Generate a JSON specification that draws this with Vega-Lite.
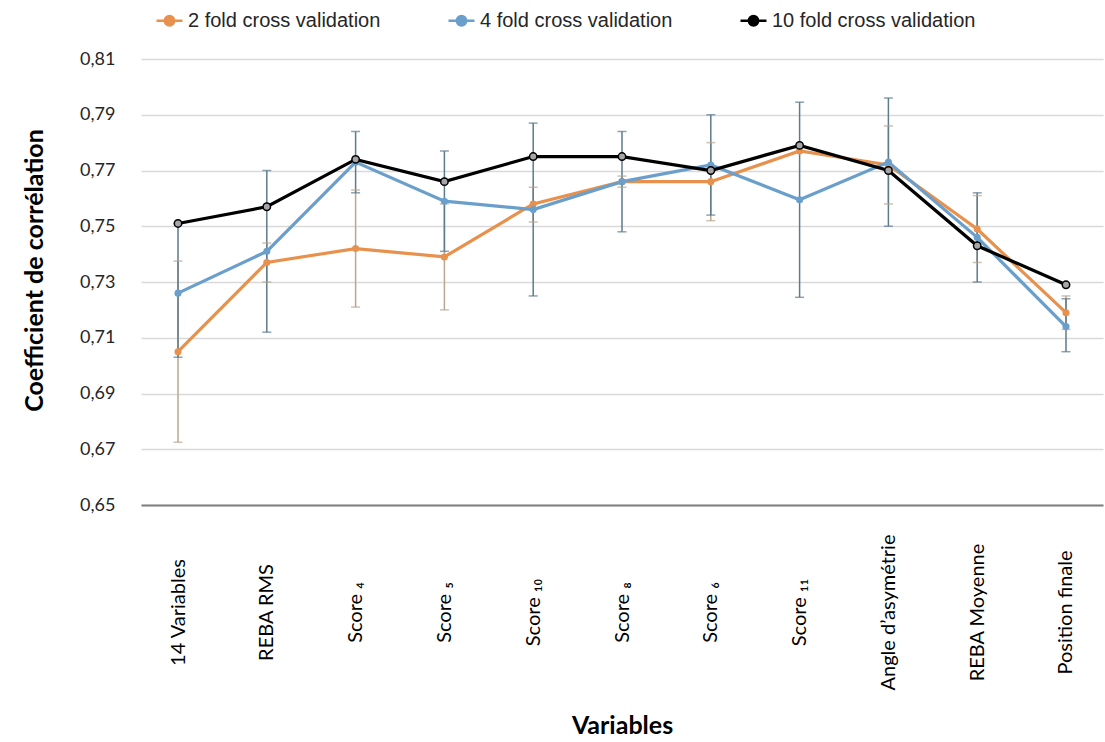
{
  "$schema": "https://vega.github.io/schema/vega-lite/v6.json",
  "width": 962,
  "height": 446,
  "autosize": {"type": "none"},
  "padding": {"left": 141, "top": 59, "right": 2, "bottom": 237},
  "background": "white",
  "config": {
    "view": {"stroke": null},
    "font": "Lato",
    "axisX": {"grid": false}
  },
  "data": {
    "values": [
      {"v": "14 Variables", "s": "2 fold cross validation", "y": 0.705, "lo": 0.6725, "hi": 0.7375},
      {"v": "REBA RMS", "s": "2 fold cross validation", "y": 0.737, "lo": 0.730, "hi": 0.744},
      {"v": "Score ₄", "s": "2 fold cross validation", "y": 0.742, "lo": 0.721, "hi": 0.763},
      {"v": "Score ₅", "s": "2 fold cross validation", "y": 0.739, "lo": 0.720, "hi": 0.758},
      {"v": "Score ₁₀", "s": "2 fold cross validation", "y": 0.758, "lo": 0.7515, "hi": 0.764},
      {"v": "Score ₈", "s": "2 fold cross validation", "y": 0.766, "lo": 0.764, "hi": 0.768},
      {"v": "Score ₆", "s": "2 fold cross validation", "y": 0.766, "lo": 0.752, "hi": 0.780},
      {"v": "Score ₁₁", "s": "2 fold cross validation", "y": 0.777, "lo": null, "hi": null},
      {"v": "Angle d’asymétrie", "s": "2 fold cross validation", "y": 0.772, "lo": 0.758, "hi": 0.786},
      {"v": "REBA Moyenne", "s": "2 fold cross validation", "y": 0.749, "lo": 0.737, "hi": 0.761},
      {"v": "Position finale", "s": "2 fold cross validation", "y": 0.719, "lo": 0.713, "hi": 0.725},
      {"v": "14 Variables", "s": "4 fold cross validation", "y": 0.726, "lo": 0.703, "hi": 0.751},
      {"v": "REBA RMS", "s": "4 fold cross validation", "y": 0.741, "lo": 0.712, "hi": 0.770},
      {"v": "Score ₄", "s": "4 fold cross validation", "y": 0.773, "lo": 0.762, "hi": 0.784},
      {"v": "Score ₅", "s": "4 fold cross validation", "y": 0.759, "lo": 0.741, "hi": 0.777},
      {"v": "Score ₁₀", "s": "4 fold cross validation", "y": 0.756, "lo": 0.725, "hi": 0.787},
      {"v": "Score ₈", "s": "4 fold cross validation", "y": 0.766, "lo": 0.748, "hi": 0.784},
      {"v": "Score ₆", "s": "4 fold cross validation", "y": 0.772, "lo": 0.754, "hi": 0.790},
      {"v": "Score ₁₁", "s": "4 fold cross validation", "y": 0.7595, "lo": 0.7245, "hi": 0.7945},
      {"v": "Angle d’asymétrie", "s": "4 fold cross validation", "y": 0.773, "lo": 0.750, "hi": 0.796},
      {"v": "REBA Moyenne", "s": "4 fold cross validation", "y": 0.746, "lo": 0.730, "hi": 0.762},
      {"v": "Position finale", "s": "4 fold cross validation", "y": 0.714, "lo": 0.705, "hi": 0.724},
      {"v": "14 Variables", "s": "10 fold cross validation", "y": 0.751, "lo": null, "hi": null},
      {"v": "REBA RMS", "s": "10 fold cross validation", "y": 0.757, "lo": null, "hi": null},
      {"v": "Score ₄", "s": "10 fold cross validation", "y": 0.774, "lo": null, "hi": null},
      {"v": "Score ₅", "s": "10 fold cross validation", "y": 0.766, "lo": null, "hi": null},
      {"v": "Score ₁₀", "s": "10 fold cross validation", "y": 0.775, "lo": null, "hi": null},
      {"v": "Score ₈", "s": "10 fold cross validation", "y": 0.775, "lo": null, "hi": null},
      {"v": "Score ₆", "s": "10 fold cross validation", "y": 0.770, "lo": null, "hi": null},
      {"v": "Score ₁₁", "s": "10 fold cross validation", "y": 0.779, "lo": null, "hi": null},
      {"v": "Angle d’asymétrie", "s": "10 fold cross validation", "y": 0.770, "lo": null, "hi": null},
      {"v": "REBA Moyenne", "s": "10 fold cross validation", "y": 0.743, "lo": null, "hi": null},
      {"v": "Position finale", "s": "10 fold cross validation", "y": 0.729, "lo": null, "hi": null}
    ]
  },
  "encoding": {
    "x": {
      "field": "v",
      "type": "nominal",
      "scale": {
        "type": "point",
        "padding": 0.4167,
        "domain": ["14 Variables", "REBA RMS", "Score ₄", "Score ₅", "Score ₁₀", "Score ₈", "Score ₆", "Score ₁₁", "Angle d’asymétrie", "REBA Moyenne", "Position finale"]
      },
      "axis": {
        "title": "Variables",
        "titleFont": "Lato",
        "titleFontSize": 25,
        "titleFontWeight": "bold",
        "titleColor": "#000000",
        "titleY": 228,
        "titleBaseline": "alphabetic",
        "labelAngle": -90,
        "labelAlign": "center",
        "labelBaseline": "middle",
        "labelPadding": 107,
        "labelFont": "Lato",
        "labelFontSize": 20,
        "labelColor": "#000000",
        "labelLimit": 300,
        "ticks": false,
        "domainColor": "#7f7f7f",
        "domainWidth": 2,
        "grid": false
      }
    },
    "y": {
      "field": "y",
      "type": "quantitative",
      "scale": {"domain": [0.65, 0.81], "nice": false, "zero": false},
      "axis": {
        "title": "Coefficient de corrélation",
        "titleFont": "Lato",
        "titleFontSize": 25,
        "titleFontWeight": "bold",
        "titleColor": "#000000",
        "titleAngle": -90,
        "titleX": -99,
        "titleY": 211,
        "titleAlign": "center",
        "titleBaseline": "alphabetic",
        "values": [0.65, 0.67, 0.69, 0.71, 0.73, 0.75, 0.77, 0.79, 0.81],
        "labelExpr": "replace(format(datum.value, '.2f'), '.', ',')",
        "labelFont": "Lato",
        "labelFontSize": 18,
        "labelColor": "#262626",
        "labelPadding": 26,
        "ticks": false,
        "domain": false,
        "gridColor": "#d9d9d9",
        "gridWidth": 1.5
      }
    }
  },
  "layer": [
    {
      "transform": [{"filter": "isValid(datum.lo)"}],
      "mark": {"type": "rule", "strokeWidth": 1.5},
      "encoding": {
        "y": {"field": "lo", "type": "quantitative"},
        "y2": {"field": "hi"},
        "stroke": {"condition": {"test": "datum.s == '2 fold cross validation'", "value": "#b8a790"}, "value": "#5d7b8b"}
      }
    },
    {
      "transform": [{"filter": "isValid(datum.lo)"}],
      "mark": {"type": "tick", "thickness": 1.5, "size": 9},
      "encoding": {
        "y": {"field": "lo", "type": "quantitative"},
        "color": {"condition": {"test": "datum.s == '2 fold cross validation'", "value": "#b8a790"}, "value": "#5d7b8b"}
      }
    },
    {
      "transform": [{"filter": "isValid(datum.hi)"}],
      "mark": {"type": "tick", "thickness": 1.5, "size": 9},
      "encoding": {
        "y": {"field": "hi", "type": "quantitative"},
        "color": {"condition": {"test": "datum.s == '2 fold cross validation'", "value": "#b8a790"}, "value": "#5d7b8b"}
      }
    },
    {
      "transform": [{"filter": "datum.s == '2 fold cross validation'"}],
      "mark": {"type": "line", "strokeWidth": 3.2},
      "encoding": {
        "color": {
          "field": "s",
          "type": "nominal",
          "scale": {
            "domain": ["2 fold cross validation", "4 fold cross validation", "10 fold cross validation"],
            "range": ["#e8914d", "#6a9fcb", "#000000"]
          },
          "legend": {
            "title": null,
            "orient": "none",
            "direction": "horizontal",
            "legendX": 14,
            "legendY": -53,
            "columnPadding": 62,
            "labelFont": "Liberation Sans",
            "labelFontSize": 20,
            "labelColor": "#262626",
            "labelOffset": 4,
            "labelLimit": 400,
            "symbolType": "M-1,0L1,0M-0.36,0A0.36,0.36,0,1,1,0.36,0A0.36,0.36,0,1,1,-0.36,0Z",
            "symbolSize": 676,
            "symbolStrokeWidth": 2.5,
            "encode": {
              "symbols": {
                "update": {
                  "fill": {"signal": "datum.value == '10 fold cross validation' ? '#a6a6a6' : scale('color', datum.value)"},
                  "fillOpacity": {"value": 1}
                }
              }
            }
          }
        }
      }
    },
    {
      "transform": [{"filter": "datum.s == '4 fold cross validation'"}],
      "mark": {"type": "line", "strokeWidth": 3.2},
      "encoding": {"color": {"field": "s", "type": "nominal"}}
    },
    {
      "transform": [{"filter": "datum.s == '10 fold cross validation'"}],
      "mark": {"type": "line", "strokeWidth": 3.2},
      "encoding": {"color": {"field": "s", "type": "nominal"}}
    },
    {
      "transform": [{"filter": "datum.s != '10 fold cross validation'"}],
      "mark": {"type": "point", "filled": true, "size": 50, "opacity": 1},
      "encoding": {"color": {"field": "s", "type": "nominal"}}
    },
    {
      "transform": [{"filter": "datum.s == '10 fold cross validation'"}],
      "mark": {"type": "point", "shape": "circle", "filled": false, "fill": "#a6a6a6", "stroke": "#000000", "strokeWidth": 1.5, "size": 55, "opacity": 1, "fillOpacity": 1},
      "encoding": {}
    }
  ]
}
